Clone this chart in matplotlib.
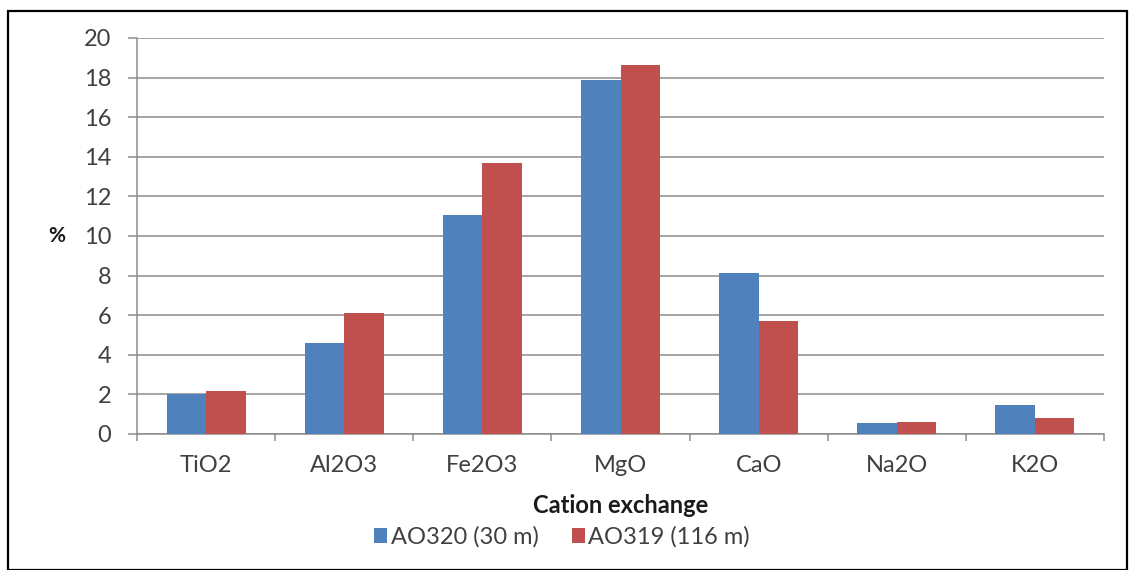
import matplotlib.pyplot as plt
import matplotlib.patches as mpatches
import numpy as np

# data
oxides = ["TiO2", "Al2O3", "Fe2O3", "MgO", "CaO", "Na2O", "K2O"]
ao320 = [2.0, 4.58, 11.06, 17.88, 8.15, 0.54, 1.46]
ao319 = [2.17, 6.13, 13.67, 18.64, 5.72, 0.59, 0.82]
series_names = ["AO320 (30 m)", "AO319 (116 m)"]

plt.rcParams['font.family'] = ['Lato', 'DejaVu Sans']

W, H = 1129, 570
fig = plt.figure(figsize=(W/100, H/100), dpi=100)
ax = fig.add_axes([137/W, 1-434/H, (1104-137)/W, (434-38)/H])

x = np.arange(len(oxides))
bw = 1/3.5
b1 = ax.bar(x - bw/2, ao320, bw, color="#4F81BD", label=series_names[0], zorder=3)
b2 = ax.bar(x + bw/2, ao319, bw, color="#C0504D", label=series_names[1], zorder=3)

ax.set_xlim(-0.5, len(oxides)-0.5)
ax.set_ylim(0, 20)
ax.set_yticks(np.arange(0, 21, 2))
ax.grid(axis="y", color="#8c8c8c", linewidth=1.1, zorder=0)

for s in ["top", "right"]:
    ax.spines[s].set_visible(False)
for s in ["left", "bottom"]:
    ax.spines[s].set_color("#8c8c8c")
    ax.spines[s].set_linewidth(1.1)

ax.set_xticks(x)
ax.set_xticklabels(oxides)
ax.set_xticks(np.arange(-0.5, len(oxides), 1), minor=True)
ax.tick_params(axis="x", which="major", length=0, pad=15, labelsize=17, labelcolor="#404040")
ax.tick_params(axis="x", which="minor", length=5, color="#8c8c8c", width=1.1)
ax.tick_params(axis="y", length=6.5, color="#8c8c8c", width=1.1, pad=12, labelsize=17, labelcolor="#404040")

ax.set_xlabel("Cation exchange", fontsize=17, fontweight="bold", labelpad=13, color="#1a1a1a")
ax.set_ylabel("%", fontsize=15, fontweight="bold", rotation=0, va="center", color="#1a1a1a")
ax.yaxis.set_label_coords((57-137)/(1104-137), 0.5)

fig.legend(handles=[b1, b2], loc="center", bbox_to_anchor=(562/W, 1-537/H),
           ncol=2, frameon=False, fontsize=17, handlelength=0.55, handleheight=0.55,
           handletextpad=0.15, columnspacing=1.4, labelcolor="#404040")

fig.patches.append(mpatches.Rectangle((8/W, 0.5/H), (1127-8)/W, (559-0.5)/H,
                                      transform=fig.transFigure, fill=False,
                                      edgecolor="black", linewidth=1.6))

fig.savefig("out.png", dpi=100)
